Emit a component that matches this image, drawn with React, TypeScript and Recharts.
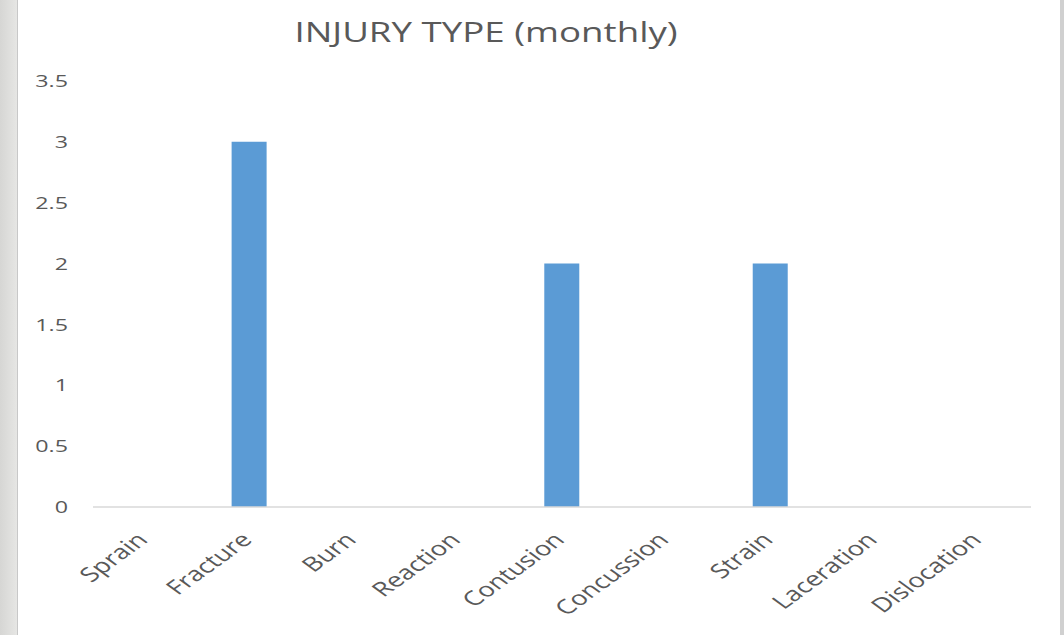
import React from "react"
import { BarChart, Bar, XAxis, YAxis } from "recharts"

const categories = ["Sprain", "Fracture", "Burn", "Reaction", "Contusion", "Concussion", "Strain", "Laceration", "Dislocation"]
const counts = [0, 3, 0, 0, 2, 0, 2, 0, 0]
const yTicks = [0, 0.5, 1, 1.5, 2, 2.5, 3, 3.5]

const data = categories.map((name, i) => ({ name, value: counts[i] }))

const font = "'Open Sans', 'Noto Sans', sans-serif"
// the source picture is stretched sideways, so text is widened to match
const stretch = 1.37

function AngledTick(props: any) {
  const { x, y, payload } = props
  return (
    <g transform={`translate(${x + 4},${y + 26}) scale(${stretch},1) rotate(-45)`}>
      <text textAnchor="end" fill="#595959" fontSize={20} fontFamily={font}>
        {payload.value}
      </text>
    </g>
  )
}

function ValueTick(props: any) {
  const { x, y, payload } = props
  return (
    <g transform={`translate(${x},${y}) scale(${stretch},1)`}>
      <text textAnchor="end" dy="0.36em" fill="#595959" fontSize={17} fontFamily={font}>
        {payload.value}
      </text>
    </g>
  )
}

export default function App() {
  return (
    <div style={{ position: "fixed", left: 0, top: 0, width: 1064, height: 635, background: "#fff", overflow: "hidden" }}>
      <div style={{ position: "absolute", left: 0, top: 0, width: 17, height: 635, background: "linear-gradient(90deg, #d6d6d4, #e6e6e4)" }} />
      <div style={{ position: "absolute", left: 17, top: 0, width: 1, height: 635, background: "#c8c8c8" }} />
      <div style={{ position: "absolute", left: 1060, top: 0, width: 4, height: 635, background: "#d0d0d0" }} />
      <div
        style={{
          position: "absolute",
          left: 0,
          width: 972,
          top: 12,
          textAlign: "center",
          fontFamily: font,
          fontSize: 28,
          color: "#595959",
          transform: "scaleX(1.31)",
          transformOrigin: "486px 0",
        }}
      >
        INJURY TYPE (monthly)
      </div>
      <BarChart
        width={1064}
        height={635}
        data={data}
        margin={{ top: 81, right: 33, bottom: 0, left: 0 }}
        barCategoryGap="33%"
      >
        <XAxis
          dataKey="name"
          axisLine={{ stroke: "#d9d9d9", strokeWidth: 1.5 }}
          tickLine={false}
          interval={0}
          height={128}
          tick={<AngledTick />}
        />
        <YAxis
          domain={[0, 3.5]}
          ticks={yTicks}
          axisLine={false}
          tickLine={false}
          tickSize={0}
          tickMargin={25}
          width={93}
          tick={<ValueTick />}
        />
        <Bar dataKey="value" fill="#5b9bd5" isAnimationActive={false} />
      </BarChart>
    </div>
  )
}
